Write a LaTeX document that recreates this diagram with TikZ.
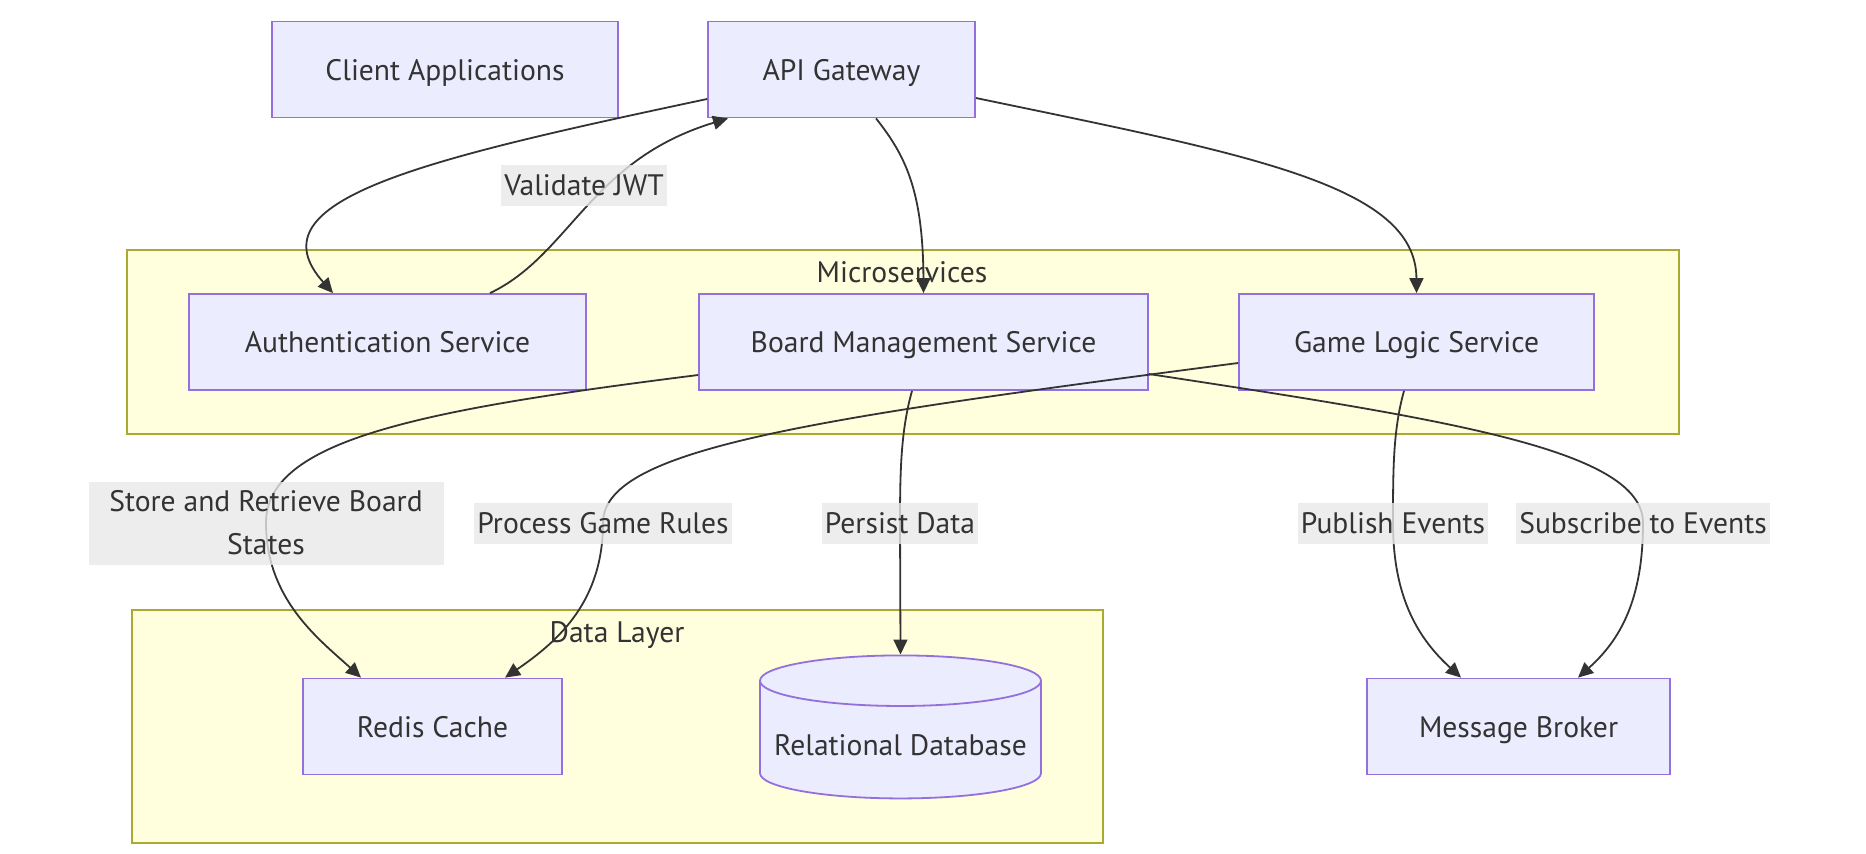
\documentclass[tikz,border=0pt]{standalone}
\usepackage{fontspec}
\setmainfont{PT Sans}
\usetikzlibrary{arrows.meta,shapes.geometric,calc}
\definecolor{boxfill}{HTML}{ECECFF}
\definecolor{boxline}{HTML}{9370DB}
\definecolor{clusterfill}{HTML}{FFFFDE}
\definecolor{clusterline}{HTML}{AAAA33}
\definecolor{lblfill}{HTML}{E8E8E8}
\definecolor{inkgray}{HTML}{333333}

\begin{document}
\begin{tikzpicture}[x=0.5pt,y=-0.5pt,
  font=\fontsize{14.8}{21.5}\selectfont, text=inkgray,
  box/.style={draw=boxline, fill=boxfill, line width=0.9pt, minimum height=48pt, inner sep=0pt,
    text height=10.5pt, text depth=0pt},
  cluster/.style={draw=clusterline, fill=clusterfill, line width=0.9pt},
  lbl/.style={fill=lblfill, fill opacity=0.8, text opacity=1, inner xsep=1.5pt, inner ysep=0pt, minimum height=20.5pt},
  arr/.style={-{Triangle[length=7.5pt,width=7pt]}, draw=inkgray, line width=0.9pt}]
\useasboundingbox (0,0) rectangle (1866,853);

% groups
\draw[cluster] (127,250) rectangle (1679,434);
\node (msTitle) at (902,272.5) {Microservices};
\draw[cluster] (132,610) rectangle (1103,843);
\node (dlTitle) at (617,635) {Data Layer};

% services and stores
\foreach \nm/\x/\y/\w/\txt in {client/445/69.5/346/Client Applications,
    gw/841.5/69.5/267/API Gateway,
    auth/387.5/342/397/Authentication Service,
    bms/923.5/342/449/Board Management Service,
    gls/1416.5/342/355/Game Logic Service,
    redis/432.5/726.5/259/Redis Cache,
    broker/1518.5/726.5/303/Message Broker}
    \node[box, minimum width=\w*0.5pt] (\nm) at (\x,\y) {\txt};
\node[cylinder, shape border rotate=90, aspect=0.2, draw=boxline, fill=boxfill, line width=0.9pt,
  minimum width=140.5pt, minimum height=71.5pt, inner sep=0pt, text height=10.5pt, text depth=0pt]
  (rdb) at (900.5,740) {\raisebox{-2.5pt}{Relational Database}};

% requests
\draw[arr] ($(gw.west)+(0,29.5)$) .. controls (420,160) and (250,200) .. ($(auth.north)+(-54.5,0)$);
\draw[arr] ($(auth.north)+(102.5,0)$) .. controls (570,255) and (590,160) .. ($(gw.south)+(-113.5,0)$)
  node[lbl] (ljwt) at (584,185) {Validate JWT};
\draw[arr] ($(gw.south)+(34.5,0)$) .. controls (905,155) and (923,190) .. (bms.north);
\draw[arr] ($(gw.east)+(0,28.5)$) .. controls (1250,155) and (1416,185) .. (gls.north);

% data and events
\draw[arr] ($(bms.west)+(0,33)$) .. controls (420,410) and (266,440) .. (266,523)
  node[lbl, align=center, minimum width=177.5pt, minimum height=41.5pt] (lstore) {Store and Retrieve Board\\States}
  .. controls (266,600) and (320,640) .. ($(redis.north)+(-71.5,0)$);
\draw[arr] ($(gls.west)+(0,21)$) .. controls (800,420) and (603,450) .. (603,523)
  node[lbl] (lrules) {Process Game Rules}
  .. controls (603,600) and (560,640) .. ($(redis.north)+(72.5,0)$);
\draw[arr] ($(bms.south)+(-11.5,0)$) .. controls (901,430) and (900,470) .. (900,523)
  node[lbl] (lpersist) {Persist Data} -- (rdb.north);
\draw[arr] ($(gls.south)+(-12.5,0)$) .. controls (1393,430) and (1393,470) .. (1393,523)
  node[lbl] (lpub) {Publish Events}
  .. controls (1393,600) and (1420,640) .. ($(broker.north)+(-57.5,0)$);
\draw[arr] ($(bms.east)+(0,32)$) .. controls (1450,420) and (1643,450) .. (1643,523)
  node[lbl] (lsub) {Subscribe to Events}
  .. controls (1643,600) and (1620,640) .. ($(broker.north)+(59.5,0)$);
\end{tikzpicture}
\end{document}
